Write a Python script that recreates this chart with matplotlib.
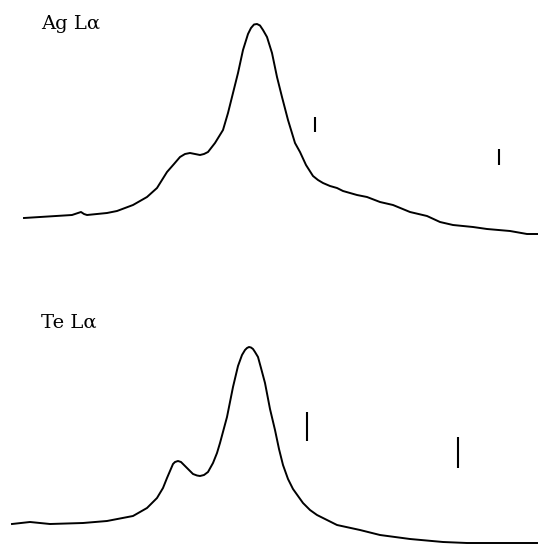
import numpy as np
import matplotlib
matplotlib.use("Agg")
import matplotlib.pyplot as plt

# channel positions and intensities
ag_x = [24, 40, 72, 78, 81, 84, 87, 107, 117, 133, 147, 157, 167, 174, 180, 185, 190,
        195, 200, 204, 208, 215, 223, 228, 233, 238, 243, 248, 251, 254, 257, 260,
        263, 267, 272, 277, 282, 288, 295, 300, 306, 313, 318, 323, 330, 337, 343,
        357, 367, 380, 393, 410, 427, 440, 453, 473, 487, 510, 527, 538]
ag_y = [26, 27, 29, 31, 32, 30, 29, 31, 33, 39, 47, 56, 72, 80, 87, 90, 91,
        90, 89, 90, 92, 101, 114, 131, 151, 171, 194, 210, 216, 219.5, 220, 218.5,
        214, 207, 191, 167, 147, 124, 101, 92, 79, 68, 64, 61, 58, 56, 53,
        49, 47, 42, 39, 32, 28, 22, 19, 17, 15, 13, 10, 10]

te_x = [12, 30, 50, 83, 107, 133, 147, 157, 163, 167, 170, 173, 175, 178, 181, 184,
        187, 193, 197, 200, 204, 208, 213, 217, 220, 227, 233, 238, 242, 245, 247,
        249, 251, 253, 255, 258, 261, 265, 270, 275, 279, 283, 288, 293, 303, 310, 317,
        337, 360, 380, 410, 443, 467, 537]
te_y = [20, 22, 20, 21, 23, 28, 36, 46, 56, 66, 73, 80, 82, 83, 82, 79,
        76, 70, 68.5, 68, 69, 72, 81, 91, 101, 127, 157, 178, 189, 194, 196,
        197, 196.5, 195, 192, 187, 176, 161, 135, 114, 95, 79, 65, 55, 41, 34, 29,
        19, 14, 9, 5, 2, 1, 1]

# reference line markers (x, bottom, top)
ag_marks = [(315, 112, 127), (499, 79, 95)]
te_marks = [(307, 103, 132), (458, 76, 107)]

labels = ["Ag L\u03b1", "Te L\u03b1"]

fig = plt.figure(figsize=(5.38, 5.44), dpi=100)
ax1 = fig.add_axes([0, 0.5, 1, 0.5])
ax2 = fig.add_axes([0, 0, 1, 0.5])

panels = [(ax1, ag_x, ag_y, ag_marks, (-28, 244), 220),
          (ax2, te_x, te_y, te_marks, (0, 272), 221)]

for (ax, xs, ys, marks, ylim, ty), lab in zip(panels, labels):
    ax.plot(xs, ys, color="black", lw=1.4, solid_joinstyle="round")
    for mx, lo, hi in marks:
        ax.vlines(mx, lo, hi, color="black", lw=1.5)
    ax.text(41, ty, lab, fontsize=14, family="DejaVu Serif", va="center", ha="left")
    ax.set_xlim(0, 538)
    ax.set_ylim(*ylim)
    ax.axis("off")

fig.savefig("out.png", dpi=100, facecolor="white")
